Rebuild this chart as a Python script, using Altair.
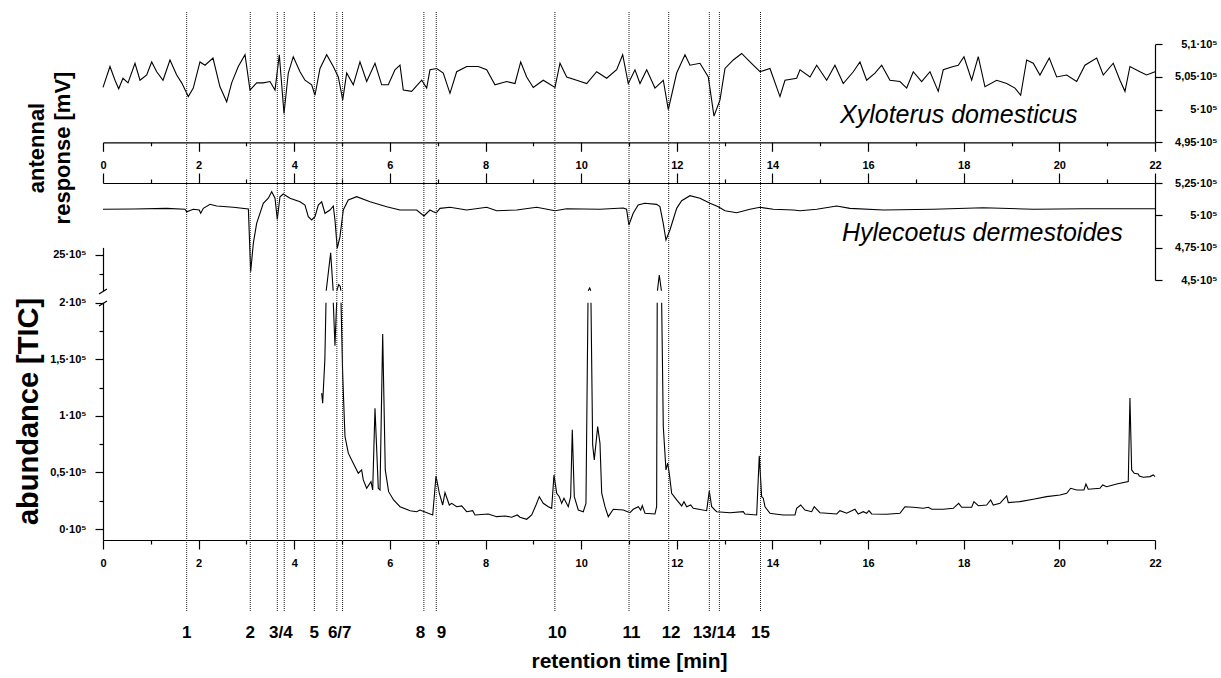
import altair as alt
import pandas as pd

FONT = "Liberation Sans"

# ---------------- data ----------------
# EAD trace, Xyloterus domesticus  (time in min, response in 1e5 units)
xylo_t = [0.0, 0.146, 0.251, 0.328, 0.418, 0.523, 0.669, 0.774, 0.914, 1.018,
          1.123, 1.255, 1.401, 1.541, 1.646, 1.784, 1.888, 2.028, 2.133, 2.300,
          2.446, 2.587, 2.691, 2.829, 2.970, 3.074, 3.214, 3.352, 3.492, 3.597,
          3.687, 3.785, 3.875, 3.979, 4.120, 4.224, 4.364, 4.433, 4.538, 4.678,
          4.816, 4.921, 5.013, 5.096, 5.234, 5.374, 5.514, 5.688, 5.828, 5.966,
          6.106, 6.211, 6.280, 6.455, 6.665, 6.769, 6.838, 6.978, 7.116, 7.256,
          7.396, 7.606, 7.848, 8.024, 8.197, 8.442, 8.616, 8.735, 8.860, 8.998,
          9.207, 9.452, 9.557, 9.697, 9.906, 10.115, 10.324, 10.533, 10.742, 10.868,
          10.985, 11.125, 11.230, 11.370, 11.543, 11.717, 11.822, 11.997, 12.171, 12.275,
          12.484, 12.658, 12.777, 12.903, 13.007, 13.181, 13.356, 13.530, 13.739, 13.948,
          14.157, 14.262, 14.506, 14.576, 14.785, 14.925, 15.134, 15.307, 15.481, 15.690,
          15.830, 15.970, 16.144, 16.284, 16.457, 16.667, 16.807, 16.945, 17.120, 17.294,
          17.467, 17.572, 17.781, 17.886, 18.005, 18.166, 18.304, 18.444, 18.689, 18.898,
          19.072, 19.191, 19.316, 19.454, 19.594, 19.789, 19.944, 20.153, 20.362, 20.535,
          20.780, 20.918, 21.127, 21.267, 21.372, 21.476, 21.685, 21.825, 22.0]
xylo_v = [5.034, 5.066, 5.045, 5.032, 5.048, 5.041, 5.071, 5.045, 5.053, 5.073,
          5.058, 5.045, 5.076, 5.053, 5.041, 5.020, 5.033, 5.073, 5.068, 5.079,
          5.035, 5.012, 5.041, 5.066, 5.084, 5.030, 5.041, 5.041, 5.043, 5.030,
          5.084, 4.994, 5.056, 5.081, 5.058, 5.045, 5.038, 5.022, 5.063, 5.084,
          5.066, 5.050, 5.015, 5.056, 5.038, 5.073, 5.043, 5.071, 5.038, 5.038,
          5.061, 5.068, 5.030, 5.028, 5.045, 5.033, 5.061, 5.063, 5.056, 5.025,
          5.058, 5.066, 5.066, 5.061, 5.038, 5.043, 5.040, 5.073, 5.050, 5.034,
          5.045, 5.034, 5.071, 5.050, 5.045, 5.040, 5.058, 5.048, 5.061, 5.084,
          5.040, 5.061, 5.040, 5.061, 5.033, 5.045, 5.000, 5.056, 5.084, 5.068,
          5.071, 5.050, 4.990, 5.015, 5.063, 5.076, 5.086, 5.073, 5.058, 5.063,
          5.020, 5.045, 5.048, 5.061, 5.050, 5.068, 5.045, 5.068, 5.040, 5.058,
          5.073, 5.045, 5.056, 5.068, 5.045, 5.043, 5.033, 5.058, 5.043, 5.058,
          5.028, 5.061, 5.066, 5.068, 5.081, 5.045, 5.081, 5.035, 5.045, 5.040,
          5.033, 5.022, 5.076, 5.071, 5.053, 5.079, 5.050, 5.053, 5.043, 5.068,
          5.079, 5.053, 5.071, 5.045, 5.028, 5.066, 5.058, 5.053, 5.058]

# EAD trace, Hylecoetus dermestoides
hyl_t = [0.0, 0.641, 1.332, 1.714, 1.750, 1.888, 2.013, 2.043, 2.098, 2.238,
         2.377, 2.725, 3.040, 3.088, 3.144, 3.213, 3.352, 3.457, 3.528, 3.597,
         3.645, 3.701, 3.770, 3.910, 4.120, 4.224, 4.293, 4.364, 4.433, 4.502,
         4.573, 4.642, 4.747, 4.816, 4.851, 4.899, 4.956, 5.025, 5.129, 5.305,
         5.584, 5.933, 6.211, 6.559, 6.712, 6.838, 6.907, 6.970, 7.047, 7.256,
         7.606, 8.024, 8.233, 8.651, 9.069, 9.452, 9.697, 10.391, 10.879, 10.949,
         10.997, 11.088, 11.192, 11.332, 11.577, 11.647, 11.716, 11.773, 11.856, 11.997,
         12.101, 12.275, 12.484, 12.693, 12.867, 13.007, 13.252, 13.530, 13.739, 14.017,
         14.436, 14.576, 14.925, 15.343, 15.621, 16.318, 17.363, 18.409, 19.454, 20.500, 22.0]
hyl_v = [5.047, 5.049, 5.054, 5.047, 5.028, 5.047, 5.041, 5.016, 5.054, 5.085,
         5.072, 5.062, 5.049, 4.564, 4.784, 4.938, 5.093, 5.132, 5.183, 5.132,
         4.969, 5.144, 5.165, 5.132, 5.105, 5.080, 4.989, 4.964, 4.989, 5.080,
         5.105, 5.016, 5.041, 5.072, 4.964, 4.745, 4.835, 5.041, 5.119, 5.144,
         5.105, 5.067, 5.041, 5.041, 4.995, 5.041, 5.028, 5.020, 5.054, 5.062,
         5.041, 5.062, 5.036, 5.041, 5.062, 5.036, 5.051, 5.047, 5.057, 5.047,
         4.925, 5.016, 5.080, 5.093, 5.085, 5.067, 4.938, 4.809, 4.887, 5.054,
         5.113, 5.152, 5.132, 5.093, 5.067, 5.036, 5.020, 5.047, 5.062, 5.047,
         5.041, 5.036, 5.047, 5.072, 5.054, 5.041, 5.047, 5.059, 5.047, 5.051, 5.051]

# total ion current (abundance in 1e5 units; broken axis between 2 and 20.3)
tic_t = [4.573, 4.594, 4.640, 4.663, 4.668, 4.761, 4.813, 4.816, 4.851, 4.886,
         4.890, 4.930, 4.960, 4.975, 4.978, 5.010, 5.047, 5.061, 5.130, 5.234,
         5.339, 5.409, 5.443, 5.514, 5.604, 5.640, 5.688, 5.757, 5.793, 5.849,
         5.903, 5.973, 6.077, 6.211, 6.421, 6.560, 6.629, 6.895, 6.964, 7.033,
         7.104, 7.152, 7.242, 7.292, 7.397, 7.501, 7.606, 7.731, 7.779, 8.057,
         8.233, 8.407, 8.547, 8.664, 8.720, 8.860, 8.965, 9.055, 9.124, 9.207,
         9.312, 9.383, 9.431, 9.488, 9.542, 9.592, 9.640, 9.730, 9.780, 9.814,
         9.856, 9.939, 10.044, 10.100, 10.142, 10.146, 10.178, 10.201, 10.205, 10.240,
         10.274, 10.345, 10.393, 10.429, 10.498, 10.567, 10.671, 10.880, 11.020, 11.089,
         11.194, 11.244, 11.278, 11.334, 11.543, 11.578, 11.590, 11.595, 11.633, 11.678,
         11.683, 11.717, 11.773, 11.809, 11.842, 11.892, 11.997, 12.102, 12.150, 12.206,
         12.290, 12.344, 12.624, 12.679, 12.729, 12.833, 13.112, 13.390, 13.425, 13.670,
         13.724, 13.774, 13.808, 13.844, 13.948, 14.053, 14.226, 14.471, 14.506, 14.590,
         14.680, 14.820, 14.874, 14.994, 15.134, 15.343, 15.412, 15.552, 15.725, 15.794,
         15.899, 15.970, 16.018, 16.075, 16.388, 16.667, 16.771, 16.945, 17.154, 17.259,
         17.330, 17.572, 17.781, 17.894, 17.957, 18.166, 18.214, 18.304, 18.480, 18.563,
         18.618, 18.758, 18.898, 18.932, 19.176, 19.454, 19.734, 20.013, 20.153, 20.236,
         20.362, 20.514, 20.556, 20.604, 20.849, 20.905, 20.989, 21.198, 21.441, 21.476,
         21.512, 21.566, 21.650, 21.671, 21.754, 21.894, 21.963, 22.0]
tic_v = [1.201, 1.112, 1.50, 2.0, 20.3, 25.3, 20.3, 2.0, 1.62, 2.0,
         20.3, 21.1, 20.9, 20.3, 2.0, 1.40, 0.965, 0.817, 0.670, 0.581,
         0.493, 0.522, 0.434, 0.360, 0.419, 0.345, 1.068, 0.360, 0.345, 1.723,
         0.522, 0.330, 0.257, 0.197, 0.162, 0.153, 0.168, 0.124, 0.469, 0.316,
         0.212, 0.321, 0.212, 0.227, 0.197, 0.204, 0.153, 0.162, 0.124, 0.133,
         0.109, 0.115, 0.104, 0.124, 0.104, 0.086, 0.124, 0.212, 0.286, 0.227,
         0.197, 0.183, 0.478, 0.316, 0.286, 0.227, 0.272, 0.197, 0.286, 0.876,
         0.286, 0.168, 0.153, 0.227, 2.0, 20.3, 20.66, 20.3, 2.0, 0.743,
         0.611, 0.905, 0.758, 0.316, 0.197, 0.109, 0.174, 0.168, 0.144, 0.174,
         0.197, 0.168, 0.206, 0.139, 0.133, 0.197, 2.0, 20.3, 22.37, 20.3,
         2.0, 0.905, 0.522, 0.581, 0.493, 0.316, 0.257, 0.204, 0.242, 0.197,
         0.212, 0.183, 0.162, 0.336, 0.197, 0.153, 0.144, 0.153, 0.133, 0.124,
         0.646, 0.286, 0.272, 0.197, 0.139, 0.133, 0.124, 0.124, 0.183, 0.212,
         0.168, 0.153, 0.197, 0.144, 0.139, 0.133, 0.162, 0.139, 0.174, 0.133,
         0.153, 0.139, 0.162, 0.133, 0.130, 0.139, 0.197, 0.192, 0.183, 0.192,
         0.174, 0.174, 0.183, 0.227, 0.192, 0.192, 0.242, 0.206, 0.212, 0.257,
         0.212, 0.227, 0.292, 0.233, 0.242, 0.263, 0.286, 0.301, 0.316, 0.360,
         0.345, 0.345, 0.398, 0.351, 0.360, 0.389, 0.374, 0.398, 0.419, 1.157,
         0.522, 0.493, 0.487, 0.469, 0.458, 0.463, 0.478, 0.463]

# EAD-active retention times (dotted lines) and their labels
peak_t = [1.75, 3.08, 3.645, 3.79, 4.42, 4.89, 5.01, 6.71, 6.97,
          9.45, 11.0, 11.83, 12.68, 12.89, 13.75]
label_text = ["1", "2", "3/4", "5", "6/7", "8", "9", "10", "11", "12", "13/14", "15"]
label_t = [1.75, 3.08, 3.72, 4.42, 4.95, 6.64, 7.08, 9.50, 11.05, 11.88, 12.78, 13.75]

species = ["Xyloterus domesticus", "Hylecoetus dermestoides"]
ead_title = "antennal\nresponse [mV]"

major_x = [0, 2, 4, 6, 8, 10, 12, 14, 16, 18, 20, 22]
minor_x = [1, 3, 5, 7, 9, 11, 13, 15, 17, 19, 21]
xylo_ticks = [4.95, 5.0, 5.05, 5.1]
hyl_ticks = [4.5, 4.75, 5.0, 5.25]
low_ticks = [0, 0.5, 1, 1.5, 2]
low_minor = [0.25, 0.75, 1.25, 1.75]
up_ticks = [25]
up_minor = [22.5]

# ---------------- layout ----------------
W, H = 1052, 540
LABEL_EXPR = "replace(format(datum.value, '.2~f'), '.', ',') + '\u00b710\u2075'"

AX = dict(domainColor="black", tickColor="black", labelColor="black",
          domainWidth=1.2, tickWidth=1.2, labelFont=FONT, labelFontSize=11,
          labelFontWeight="bold", grid=False, labelFlush=False,
          labelOverlap=False, title=None)


def ax(**kw):
    d = dict(AX)
    d.update(kw)
    return alt.Axis(**d)


def X(field, axis):
    return alt.X(field, type="quantitative",
                 scale=alt.Scale(domain=[0, 22], nice=False, zero=False),
                 axis=axis)


def Ysc(dom, rng):
    return alt.Scale(domain=dom, range=rng, nice=False, zero=False)


tic_df = pd.DataFrame({"t": tic_t, "v": tic_v})
low_mask = tic_df["v"] <= 2.0001
low_df = tic_df[low_mask].assign(seg=(low_mask != low_mask.shift()).cumsum()[low_mask])
up_mask = tic_df["v"] >= 20.29
up_df = tic_df[up_mask].assign(seg=(up_mask != up_mask.shift()).cumsum()[up_mask])

XY_SC = Ysc([4.95, 5.1], [142.3, 44.3])
HY_SC = Ysc([4.5, 5.25], [280, 183])
LO_SC = Ysc([-0.0972, 2.0], [540, 302.7])
UP_SC = Ysc([20.3, 26.0], [290.7, 247.4])

layers = []

# top panel trace + axes
layers.append(alt.Chart(pd.DataFrame({"t": xylo_t, "v": xylo_v})).mark_line(
    color="black", strokeWidth=1.1).encode(
    x=X("t", ax(orient="bottom", offset=142.3 - H, values=major_x, tickSize=9, labelPadding=8)),
    y=alt.Y("v:Q", scale=XY_SC,
            axis=ax(orient="right", values=xylo_ticks, tickSize=7, labelPadding=55,
                    labelAlign="right", labelExpr=LABEL_EXPR))))
layers.append(alt.Chart(pd.DataFrame({"t": [0, 22]})).mark_point(opacity=0).encode(
    x=X("t", ax(orient="bottom", offset=142.3 - H, values=minor_x, tickSize=3.5,
                labels=False, domain=False))))

# middle panel trace + axes
layers.append(alt.Chart(pd.DataFrame({"t": hyl_t, "v": hyl_v})).mark_line(
    color="black", strokeWidth=1.1).encode(
    x=X("t", ax(orient="top", offset=-183, values=major_x, tickSize=10, labels=False)),
    y=alt.Y("v:Q", scale=HY_SC,
            axis=ax(orient="right", values=hyl_ticks, tickSize=7, labelPadding=55,
                    labelAlign="right", labelExpr=LABEL_EXPR))))
layers.append(alt.Chart(pd.DataFrame({"t": [0, 22]})).mark_point(opacity=0).encode(
    x=X("t", ax(orient="top", offset=-183, values=minor_x, tickSize=4,
                labels=False, domain=False))))

# TIC lower segment
layers.append(alt.Chart(low_df).mark_line(color="black", strokeWidth=1.1).encode(
    x=X("t", ax(orient="bottom", values=major_x, tickSize=9, labelPadding=8,
                title="retention time [min]", titleFont=FONT, titleFontSize=21,
                titleFontWeight="bold", titleColor="black", titleY=121,
                titleBaseline="middle")),
    y=alt.Y("v:Q", scale=LO_SC,
            axis=ax(orient="left", values=low_ticks, tickSize=8, labelPadding=9,
                    labelExpr=LABEL_EXPR, title="abundance [TIC]", titleFont=FONT,
                    titleFontSize=29, titleFontWeight="bold", titleColor="black",
                    titleAngle=270, titleX=-75, titleY=411, titleAlign="center",
                    titleBaseline="middle")),
    detail="seg:N"))
layers.append(alt.Chart(pd.DataFrame({"t": [0, 22], "v": [0, 2]})).mark_point(opacity=0).encode(
    x=X("t", ax(orient="bottom", values=minor_x, tickSize=4, labels=False, domain=False)),
    y=alt.Y("v:Q", scale=LO_SC,
            axis=ax(orient="left", values=low_minor, tickSize=4, labels=False, domain=False))))

# TIC upper segment
layers.append(alt.Chart(up_df).mark_line(color="black", strokeWidth=1.1).encode(
    x=X("t", None),
    y=alt.Y("v:Q", scale=UP_SC,
            axis=ax(orient="left", values=up_ticks, tickSize=8, labelPadding=9,
                    labelExpr=LABEL_EXPR)),
    detail="seg:N"))
layers.append(alt.Chart(pd.DataFrame({"v": [21, 25]})).mark_point(opacity=0).encode(
    y=alt.Y("v:Q", scale=UP_SC,
            axis=ax(orient="left", values=up_minor, tickSize=4, labels=False, domain=False))))

# axis break marks
for yy in (291.5, 303.5):
    layers.append(alt.Chart(pd.DataFrame({"k": [0]})).mark_rule(
        color="black", strokeWidth=1.2).encode(
        x=alt.value(-4), x2=alt.value(4), y=alt.value(yy + 2.5), y2=alt.value(yy - 2.5)))

# dotted marker lines and their labels
layers.append(alt.Chart(pd.DataFrame({"t": peak_t})).mark_rule(
    color="#222222", strokeWidth=1, strokeDash=[1, 1]).encode(
    x=X("t", None), y=alt.value(12), y2=alt.value(612)))
layers.append(alt.Chart(pd.DataFrame({"t": label_t, "label": label_text})).mark_text(
    font=FONT, fontSize=17, fontWeight="bold", color="black", align="center",
    baseline="middle").encode(
    x=X("t", None), y=alt.value(633), text="label:N"))

# species names
for name, xx, yy in ((species[0], 737, 115), (species[1], 739, 233)):
    layers.append(alt.Chart(pd.DataFrame({"name": [name]})).mark_text(
        font=FONT, fontSize=25, fontStyle="italic", color="black",
        align="left", baseline="middle").encode(
        x=alt.value(xx), y=alt.value(yy), text="name:N"))

# EAD axis title (two lines, rotated)
layers.append(alt.Chart(pd.DataFrame({"name": [ead_title]})).mark_text(
    font=FONT, fontSize=22, fontWeight="bold", color="black", angle=270,
    lineBreak="\n", lineHeight=26, align="center", baseline="middle").encode(
    x=alt.value(-66), y=alt.value(148), text="name:N"))

chart = alt.layer(*layers).resolve_scale(x="independent", y="independent").properties(
    width=W, height=H,
    autosize=alt.AutoSizeParams(type="none"),
    padding={"left": 103, "top": 0, "right": 66, "bottom": 138},
).configure_view(stroke=None)

chart.save("out.html", embed_options={"renderer": "svg", "actions": False})
